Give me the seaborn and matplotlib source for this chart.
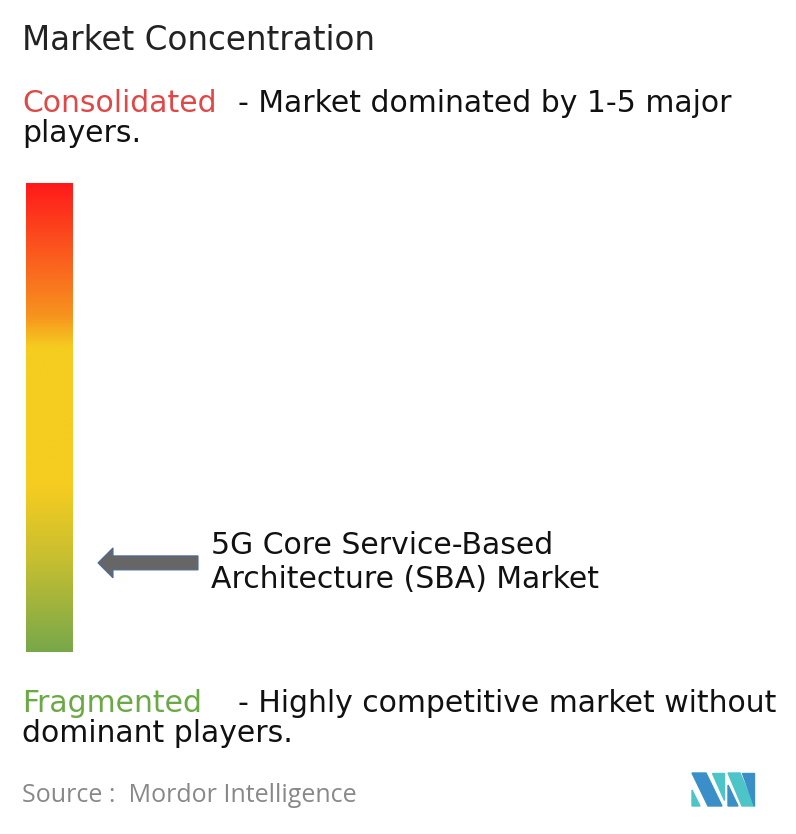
import numpy as np
import matplotlib.pyplot as plt
import seaborn as sns
from matplotlib.colors import LinearSegmentedColormap
from matplotlib.patches import Polygon, FancyArrow

sns.set_theme(style="white")
plt.rcParams['font.family'] = ['DejaVu Sans']

# gradient stops (position from top, colour)
stop_pos = [0.0, 0.15, 0.28, 0.35, 0.65, 0.80, 1.0]
stop_col = ["#ff1a1a", "#fb5a1e", "#f7921e", "#f5cc20", "#f5cc20", "#c8bf30", "#78a84a"]
title = "Market Concentration"
top_label, top_desc, top_wrap = "Consolidated", "- Market dominated by 1-5 major", "players."
bot_label, bot_desc, bot_wrap = "Fragmented", "- Highly competitive market without", "dominant players."
market = ["5G Core Service-Based", "Architecture (SBA) Market"]
marker_pos = 0.81  # fraction down the bar

W, H = 796, 834
fig = plt.figure(figsize=(W / 100, H / 100), dpi=100)
ax = fig.add_axes([0, 0, 1, 1])
ax.set_xlim(0, W)
ax.set_ylim(H, 0)
ax.axis("off")

cmap = LinearSegmentedColormap.from_list("mc", list(zip(stop_pos, stop_col)))
grad = np.linspace(0, 1, 256).reshape(-1, 1)
bx0, bx1, by0, by1 = 26, 73, 183, 652
ax.imshow(grad, cmap=cmap, aspect="auto", extent=[bx0, bx1, by1, by0], zorder=1)

ay = by0 + marker_pos * (by1 - by0)
ax.add_patch(FancyArrow(198, ay, -100, 0, width=14, head_width=30, head_length=15,
                        length_includes_head=True, color="#666666", ec="#4a6a9a", lw=0.8))

fs = 21.5
ax.text(22, 40, title, fontsize=23.5, color="#222222", va="center")
ax.text(22, 103, top_label, fontsize=fs, color="#e04848", va="center")
ax.text(238, 103, top_desc, fontsize=fs, color="#111111", va="center")
ax.text(22, 133, top_wrap, fontsize=fs, color="#111111", va="center")
ax.text(22, 703, bot_label, fontsize=fs, color="#6aaa44", va="center")
ax.text(238, 703, bot_desc, fontsize=fs, color="#111111", va="center")
ax.text(22, 733, bot_wrap, fontsize=fs, color="#111111", va="center")
ax.text(211, 545, market[0], fontsize=fs, color="#111111", va="center")
ax.text(211, 579, market[1], fontsize=fs, color="#111111", va="center")
ax.text(22, 796, "Source :  Mordor Intelligence", fontsize=18, color="#888888",
        va="center", family=["Open Sans", "DejaVu Sans"])

# logo
ax.add_patch(Polygon([(692, 773), (706, 773), (722, 806), (708, 806)], color="#3a8fc8"))
ax.add_patch(Polygon([(692, 790), (700, 806), (692, 806)], color="#4cc4c8"))
ax.add_patch(Polygon([(712, 773), (724, 773), (724, 800)], color="#4cc4c8"))
ax.add_patch(Polygon([(728, 773), (740, 773), (754, 806), (742, 806)], color="#4cc4c8"))
ax.add_patch(Polygon([(742, 773), (754, 773), (754, 806)], color="#3a8fc8"))
ax.add_patch(Polygon([(728, 785), (738, 806), (728, 806)], color="#3a8fc8"))

fig.savefig("out.png", dpi=100)
